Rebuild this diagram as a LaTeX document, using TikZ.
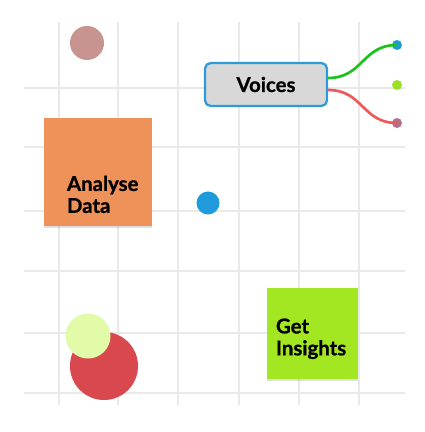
\documentclass[tikz,border=0pt]{standalone}
\usepackage{fontspec}
\setsansfont{Lato}[BoldFeatures={FakeBold=0.8}]
\definecolor{gridgray}{RGB}{233, 233, 233}
\definecolor{dotrose}{RGB}{200, 148, 143}
\definecolor{voicefill}{RGB}{216, 216, 216}
\definecolor{voiceborder}{RGB}{46, 154, 217}
\definecolor{dotblue}{RGB}{31, 155, 220}
\definecolor{dotlime}{RGB}{155, 224, 38}
\definecolor{dotmauve}{RGB}{176, 115, 143}
\definecolor{curvegreen}{RGB}{28, 194, 28}
\definecolor{curvered}{RGB}{240, 88, 88}
\definecolor{analyseorange}{RGB}{238, 146, 90}
\definecolor{insightsgreen}{RGB}{163, 230, 34}
\definecolor{bigred}{RGB}{217, 72, 79}
\definecolor{paleyellow}{RGB}{226, 251, 168}
\usetikzlibrary{positioning, calc, shadows}

\begin{document}
\begin{tikzpicture}[
    x=0.025cm, y=-0.025cm,
    gridline/.style={gridgray, line width=1.1pt},
    dot/.style={circle, inner sep=0pt, draw=none},
    sticky/.style={rectangle, inner sep=0pt, draw=none, drop shadow={shadow xshift=0pt, shadow yshift=-1.5pt, opacity=0.25}},
    label/.style={inner sep=0pt, align=left, font=\sffamily\bfseries\fontsize{14.5}{15.6}\selectfont},
    branch/.style={line width=1.9pt}
]
    \useasboundingbox (0,0) rectangle (425,432);

    % grid
    \foreach \gx in {59,118,178,239,299,359}
        \draw[gridline] (\gx,22) -- (\gx,405);
    \foreach \gy in {88,147,211,271,333,393}
        \draw[gridline] (24,\gy) -- (405,\gy);

    \node[dot, fill=dotrose, minimum size=0.85cm] (rose) at (87,43) {};

    \node[rectangle, rounded corners=4pt, draw=voiceborder, line width=1.6pt, fill=voicefill,
          minimum width=3.05cm, minimum height=1.075cm, font=\sffamily\bfseries\fontsize{14.5}{16}\selectfont]
          (voices) at (266,84.5) {Voices};

    \node[dot, fill=dotblue, minimum size=0.25cm] (tipblue) at (397,45) {};
    \node[dot, fill=dotlime, minimum size=0.25cm] (tiplime) at (397,85) {};
    \node[dot, fill=dotmauve, minimum size=0.25cm] (tipmauve) at (397,123) {};

    \draw[branch, curvegreen] ($(voices.east)+(0,-6.5)$) .. controls +(35,0) and (362,45) .. (tipblue.center);
    \draw[branch, curvered] ($(voices.east)+(0,5.5)$) .. controls +(35,0) and (362,123) .. (tipmauve.center);

    \node[sticky, fill=analyseorange, minimum size=2.7cm] (analyse) at (98,172) {};
    \node[label, anchor=south west] (analysetext) at ($(analyse.south west)+(23,-13)$) {Analyse\\Data};

    \node[dot, fill=dotblue, minimum size=0.575cm] (hub) at (208,203) {};

    \node[sticky, fill=insightsgreen, minimum size=2.275cm] (insights) at (312.5,333.5) {};
    \node[label, anchor=south west] (insightstext) at ($(insights.south west)+(9,-20)$) {Get\\Insights};

    \node[dot, fill=bigred, minimum size=1.7cm] (bigcircle) at (104,366) {};
    \node[dot, fill=paleyellow, minimum size=1.125cm] (smallcircle) at (88,336) {};
\end{tikzpicture}
\end{document}
